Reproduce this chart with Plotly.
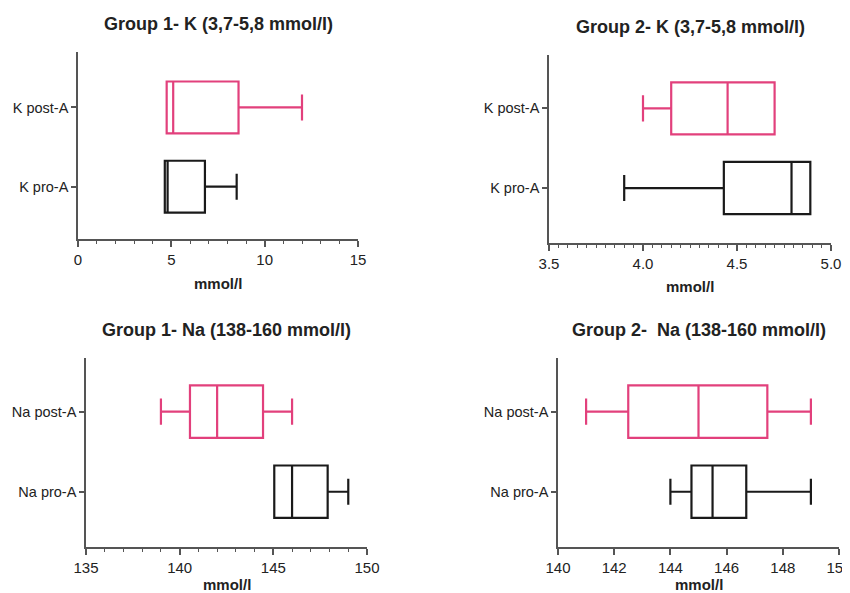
import plotly.graph_objects as go

# ---- data ----
categories = ["pro-A", "post-A"]

k1_pro = dict(lf=4.65, q1=4.65, med=4.8, q3=6.8, uf=8.5)
k1_post = dict(lf=4.75, q1=4.75, med=5.1, q3=8.6, uf=12.0)

k2_pro = dict(lf=3.9, q1=4.43, med=4.79, q3=4.89, uf=4.89)
k2_post = dict(lf=4.0, q1=4.15, med=4.45, q3=4.7, uf=4.7)

na1_pro = dict(lf=145.05, q1=145.05, med=146.0, q3=147.9, uf=149.0)
na1_post = dict(lf=139.0, q1=140.55, med=142.0, q3=144.45, uf=146.0)

na2_pro = dict(lf=144.0, q1=144.75, med=145.5, q3=146.7, uf=149.0)
na2_post = dict(lf=141.0, q1=142.5, med=145.0, q3=147.45, uf=149.0)

titles = ["Group 1- K (3,7-5,8 mmol/l)", "Group 2- K (3,7-5,8 mmol/l)",
          "Group 1- Na (138-160 mmol/l)", "Group 2-  Na (138-160 mmol/l)"]
xlabel = "mmol/l"

x_ranges = [[0, 15], [3.5, 5.0], [135, 150], [140, 150]]
x_dticks = [5, 0.5, 5, 2]
x_minor = [1, 0.05, 1, None]
x_tickformats = ["d", ".1f", "d", "d"]

panels = [
    ("K", k1_pro, k1_post),
    ("K", k2_pro, k2_post),
    ("Na", na1_pro, na1_post),
    ("Na", na2_pro, na2_post),
]

PINK = "#E2407C"
BLACK = "#1a1a1a"
AXIS = "#555555"
OFF = 8  # page body margin
W, H = 866, 593 - OFF  # figure a bit wider than the window so edge labels render

# plot areas in target-image pixels: (x0, x1, ytop, ybottom)
areas = [(78, 358, 52, 239), (549, 831, 55, 243), (86, 367, 358, 547), (558, 839, 358, 547)]
y_ranges = [[-0.66, 1.70], [-0.69, 1.67], [-0.69, 1.67], [-0.69, 1.67]]
xtitle_y = [283, 286, 584, 584]

fig = go.Figure()
FONT = "Arial, Liberation Sans, sans-serif"

def px(v):
    return (v - OFF) / W

def py(v):
    return 1 - (v - OFF) / H

for i, ((ion, pro, post), area) in enumerate(zip(panels, areas)):
    n = "" if i == 0 else str(i + 1)
    xa = "x" + n
    ya = "y" + n
    labels = [f"{ion} {c}" for c in categories]
    for stats, lab, col in [(pro, labels[0], BLACK), (post, labels[1], PINK)]:
        fig.add_trace(go.Box(
            y=[lab], q1=[stats["q1"]], median=[stats["med"]], q3=[stats["q3"]],
            lowerfence=[stats["lf"]], upperfence=[stats["uf"]],
            orientation="h", fillcolor="white", line=dict(color=col, width=2.2),
            whiskerwidth=0.5, width=0.655, boxpoints=False, showlegend=False,
            hoverinfo="skip", xaxis=xa, yaxis=ya))
    x0, x1, yt, yb = area
    xax = dict(domain=[px(x0), px(x1)], anchor=ya, range=x_ranges[i], dtick=x_dticks[i],
               tick0=x_ranges[i][0], tickformat=x_tickformats[i], automargin=False,
               showgrid=False, zeroline=False, showline=True, linecolor=AXIS, linewidth=1.5,
               ticks="outside", ticklen=6, tickwidth=1.5, tickcolor=AXIS,
               tickfont=dict(family=FONT, size=15, color="#222"))
    if x_minor[i]:
        xax["minor"] = dict(dtick=x_minor[i], ticks="outside", ticklen=3,
                            tickcolor=AXIS, tickwidth=1, showgrid=False)
    yax = dict(domain=[py(yb), py(yt)], anchor=xa, type="category", automargin=False,
               categoryorder="array", categoryarray=labels, range=y_ranges[i],
               showgrid=False, zeroline=False, showline=True, linecolor=AXIS, linewidth=1.5,
               ticks="outside", ticklen=5, tickwidth=1.5, tickcolor=AXIS,
               tickfont=dict(family=FONT, size=14.5, color="#222"))
    fig.layout["xaxis" + n] = xax
    fig.layout["yaxis" + n] = yax
    cx = px((x0 + x1) / 2)
    fig.add_annotation(text=f"<b>{titles[i]}</b>", x=cx, y=py(yt - 28),
                       xref="paper", yref="paper", showarrow=False,
                       font=dict(family=FONT, size=18, color="#222"), xanchor="center", yanchor="middle")
    fig.add_annotation(text=f"<b>{xlabel}</b>", x=cx, y=py(xtitle_y[i]),
                       xref="paper", yref="paper", showarrow=False, borderpad=0,
                       font=dict(family=FONT, size=15, color="#222"), xanchor="center", yanchor="middle")

fig.update_layout(width=W, height=H, margin=dict(l=0, r=0, t=0, b=0, autoexpand=False),
                  paper_bgcolor="white", plot_bgcolor="white")

fig.write_html("out.html")
